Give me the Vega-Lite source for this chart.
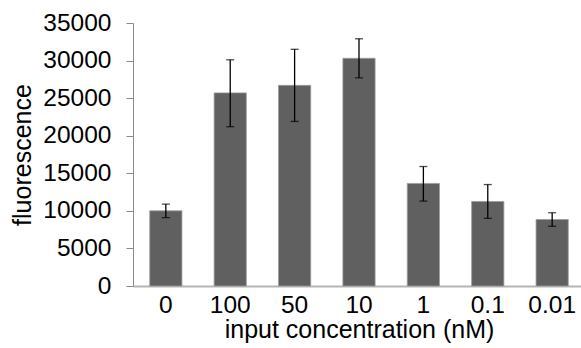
{
  "$schema": "https://vega.github.io/schema/vega-lite/v6.json",
  "width": 452,
  "height": 263,
  "autosize": "none",
  "padding": {"left": 133, "top": 23, "right": 0, "bottom": 62},
  "background": "white",
  "config": {
    "view": {"stroke": null},
    "font": "Liberation Sans",
    "axisY": {
      "titleFontSize": 25,
      "titleFontWeight": "normal",
      "titleColor": "#000000",
      "titlePadding": 7,
      "labelFontSize": 24.5,
      "labelColor": "#000000",
      "labelPadding": 15,
      "labelOverlap": false,
      "labelFlush": false,
      "grid": false,
      "tickSize": 7,
      "tickColor": "#8a8a8a",
      "domainColor": "#8a8a8a"
    }
  },
  "data": {
    "values": [
      {"conc": "0", "fluorescence": 10000, "lower": 9100, "upper": 10900},
      {"conc": "100", "fluorescence": 25700, "lower": 21200, "upper": 30100},
      {"conc": "50", "fluorescence": 26700, "lower": 21900, "upper": 31500},
      {"conc": "10", "fluorescence": 30300, "lower": 27700, "upper": 32900},
      {"conc": "1", "fluorescence": 13650, "lower": 11300, "upper": 15900},
      {"conc": "0.1", "fluorescence": 11250, "lower": 9000, "upper": 13500},
      {"conc": "0.01", "fluorescence": 8850, "lower": 7950, "upper": 9750}
    ]
  },
  "encoding": {
    "x": {
      "field": "conc",
      "type": "nominal",
      "sort": null,
      "scale": {"paddingInner": 0.5, "paddingOuter": 0.26},
      "axis": {
        "title": "input concentration (nM)",
        "titleFontSize": 25,
        "titleFontWeight": "normal",
        "titleColor": "#000000",
        "titlePadding": 1,
        "labelFontSize": 24.5,
        "labelColor": "#000000",
        "labelAngle": 0,
        "labelPadding": 7,
        "labelOverlap": false,
        "ticks": false,
        "domainColor": "#b5b5b5",
        "domainWidth": 2
      }
    }
  },
  "layer": [
    {
      "mark": {"type": "bar", "color": "#606060", "stroke": "#9a9a9a", "strokeWidth": 0.8},
      "encoding": {
        "y": {
          "field": "fluorescence",
          "type": "quantitative",
          "scale": {"domain": [0, 35000], "nice": false},
          "axis": {"title": "fluorescence", "values": [0, 5000, 10000, 15000, 20000, 25000, 30000, 35000], "format": "d"}
        }
      }
    },
    {
      "mark": {"type": "rule", "color": "#000000", "strokeWidth": 1.3},
      "encoding": {
        "y": {"field": "lower", "type": "quantitative", "axis": {"title": "fluorescence", "values": [0, 5000, 10000, 15000, 20000, 25000, 30000, 35000], "format": "d"}},
        "y2": {"field": "upper"}
      }
    },
    {
      "mark": {"type": "tick", "color": "#000000", "size": 8, "thickness": 1.3, "orient": "horizontal"},
      "encoding": {"y": {"field": "lower", "type": "quantitative", "axis": {"title": "fluorescence", "values": [0, 5000, 10000, 15000, 20000, 25000, 30000, 35000], "format": "d"}}}
    },
    {
      "mark": {"type": "tick", "color": "#000000", "size": 8, "thickness": 1.3, "orient": "horizontal"},
      "encoding": {"y": {"field": "upper", "type": "quantitative", "axis": {"title": "fluorescence", "values": [0, 5000, 10000, 15000, 20000, 25000, 30000, 35000], "format": "d"}}}
    }
  ]
}
